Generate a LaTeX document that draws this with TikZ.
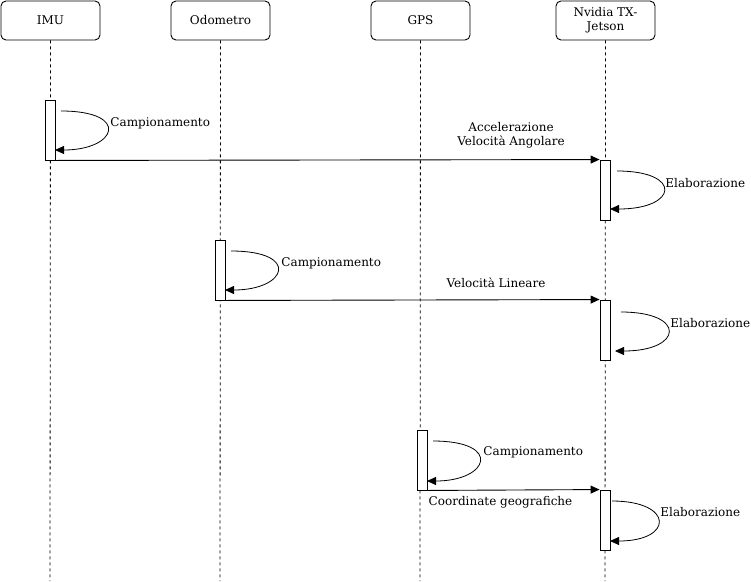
\documentclass[tikz,border=0pt]{standalone}
\usepackage{fontspec}
\setmainfont{DejaVu Serif}
\usetikzlibrary{arrows.meta}
\begin{document}
\begin{tikzpicture}[x=1pt,y=-1pt,font=\fontsize{12}{14}\selectfont,line width=0.9pt,
  actor/.style={draw,rounded corners=5pt,minimum width=99pt,minimum height=39pt,align=center,inner sep=0pt},
  life/.style={dash pattern=on 3pt off 3pt,line width=0.8pt},
  actbox/.style={draw,fill=white,minimum width=10pt,minimum height=60pt,inner sep=0pt},
  msg/.style={-{Triangle[length=9pt,width=8pt]}},
  loopline/.style={line width=0.8pt,-{Triangle[length=9pt,width=8pt]}},
  lbl/.style={inner sep=0pt,align=center}]
\useasboundingbox (0,0) rectangle (751,581);

% actors
\node[actor] (imu) at (50.5,20.5) {IMU};
\node[actor] (odo) at (220.5,20.5) {Odometro};
\node[actor] (gps) at (420.5,20.5) {GPS};
\node[actor] (nv) at (605.5,20.5) {Nvidia TX-\\Jetson};

% lifelines
\coordinate (imuE) at (50,581);
\coordinate (odoE) at (220,581);
\coordinate (gpsE) at (420,581);
\coordinate (nvE) at (605,581);
\draw[life] (imu.south) -- (imuE);
\draw[life] (odo.south) -- (odoE);
\draw[life] (gps.south) -- (gpsE);
\draw[life] (nv.south) -- (nvE);

% activation boxes
\node[actbox] (a1) at (50,130) {};
\node[actbox] (n1) at (605,190) {};
\node[actbox] (a2) at (220,270) {};
\node[actbox] (n2) at (605,330) {};
\node[actbox] (a3) at (422,460) {};
\node[actbox] (n3) at (605,520) {};

% messages
\draw[msg] (a1.south east) -- (n1.north west);
\draw[msg] (a2.south east) -- (n2.north west);
\draw[msg] (a3.south east) -- (n3.north west);
\node[lbl] (m1) at (511,135) {Accelerazione\\Velocità Angolare};
\node[lbl] (m2) at (496,283) {Velocità Lineare};
\node[lbl] (m3) at (500.5,502) {Coordinate geografiche};

% self loops
\coordinate (s1) at (61,111);  \coordinate (e1) at (55,150);
\draw[loopline] (s1) .. controls +(70,0) and +(62,0) .. (e1);
\node[lbl,anchor=west] (c1) at (110,123) {Campionamento};

\coordinate (s2) at (617,171); \coordinate (e2) at (610,209);
\draw[loopline] (s2) .. controls +(66,0) and +(68,0) .. (e2);
\node[lbl,anchor=west] (l1) at (665,183) {Elaborazione};

\coordinate (s3) at (231,251); \coordinate (e3) at (225,290);
\draw[loopline] (s3) .. controls +(70,0) and +(62,0) .. (e3);
\node[lbl,anchor=west] (c2) at (281,263) {Campionamento};

\coordinate (s4) at (621,312); \coordinate (e4) at (615,351);
\draw[loopline] (s4) .. controls +(66,0) and +(68,0) .. (e4);
\node[lbl,anchor=west] (l2) at (670,323) {Elaborazione};

\coordinate (s5) at (433,441); \coordinate (e5) at (427,481);
\draw[loopline] (s5) .. controls +(70,0) and +(62,0) .. (e5);
\node[lbl,anchor=west] (c3) at (483,452) {Campionamento};

\coordinate (s6) at (612,501); \coordinate (e6) at (610,541);
\draw[loopline] (s6) .. controls +(62,0) and +(64,0) .. (e6);
\node[lbl,anchor=west] (l3) at (660,512) {Elaborazione};
\end{tikzpicture}
\end{document}
